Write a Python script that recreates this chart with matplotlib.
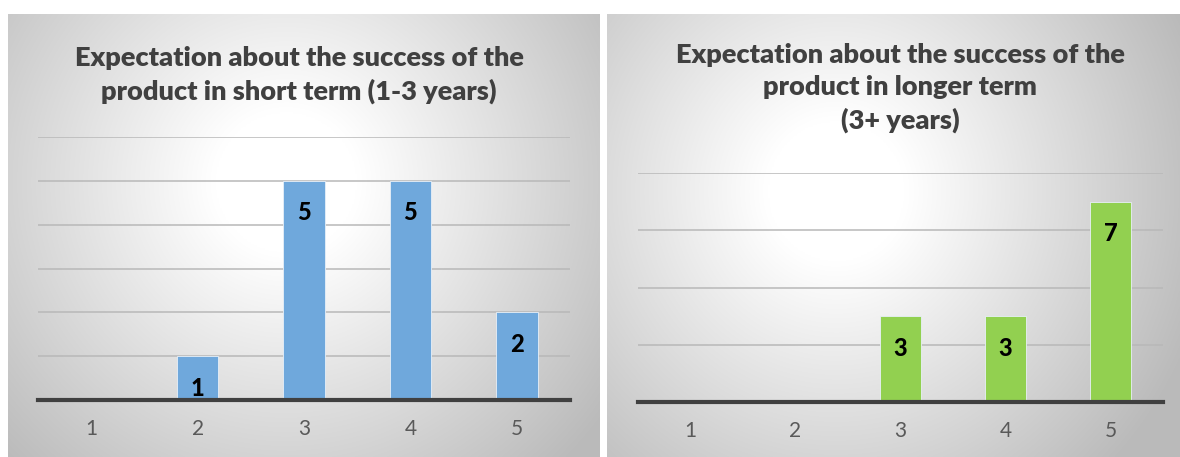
import numpy as np
import matplotlib.pyplot as plt

# data
categories = ['1', '2', '3', '4', '5']
short_term = [0, 1, 5, 5, 2]
long_term = [0, 0, 3, 3, 7]
short_title = 'Expectation about the success of the\nproduct in short term (1-3 years)'
long_title = 'Expectation about the success of the\nproduct in longer term\n(3+ years)'

W, H = 1180, 457
fig = plt.figure(figsize=(W / 100, H / 100), dpi=100)
fig.patch.set_facecolor('white')
FONT = 'Lato'


def px_rect(x0, y0, x1, y1):
    # pixel box (top-left origin) -> figure fraction rect
    return [x0 / W, (H - y1) / H, (x1 - x0) / W, (y1 - y0) / H]


def panel_bg(rect, cx, cy):
    bg = fig.add_axes(rect, zorder=0)
    yy, xx = np.mgrid[0:1:300j, 0:1:400j]
    r = np.sqrt(((xx - cx) * 1.0) ** 2 + ((yy - cy) * 0.75) ** 2)
    v = 1.0 - 0.27 * np.clip((r - 0.12) / 0.55, 0, 1)
    img = np.dstack([v, v, v])
    bg.imshow(img, aspect='auto', extent=[0, 1, 1, 0], interpolation='bilinear')
    bg.axis('off')


def bar_panel(rect, values, color, ymax, step):
    ax = fig.add_axes(rect, zorder=2)
    ax.patch.set_alpha(0)
    x = np.arange(len(categories))
    bars = ax.bar(x, values, width=0.39, color=color, edgecolor='#e8f0f8', linewidth=0.6, zorder=3)
    for b, v in zip(bars, values):
        if v > 0:
            ax.annotate(str(v), (b.get_x() + b.get_width() / 2, v), xytext=(0, -32),
                        textcoords='offset pixels', ha='center', va='center',
                        fontsize=17, fontweight='black', color='black', family=FONT, zorder=4)
    ax.set_xlim(-0.5, len(categories) - 0.5)
    ax.set_ylim(0, ymax)
    ax.set_yticks(np.arange(0, ymax + 1, step))
    ax.yaxis.grid(True, color='#b8b8b8', linewidth=1.1, zorder=1)
    ax.set_axisbelow(True)
    ax.set_xticks(x)
    ax.set_xticklabels(categories, fontsize=15, color='#595959', family=FONT)
    ax.tick_params(axis='x', length=0, pad=14)
    ax.tick_params(axis='y', length=0, labelleft=False)
    for s in ['top', 'right', 'left']:
        ax.spines[s].set_visible(False)
    ax.spines['bottom'].set_color('#404040')
    ax.spines['bottom'].set_linewidth(3)
    ax.spines['bottom'].set_zorder(5)
    return ax


# left panel
panel_bg(px_rect(8, 14, 600, 457), 0.47, 0.38)
bar_panel(px_rect(38, 137, 570, 400), short_term, '#6fa8dc', 6, 1)
fig.text(299 / W, 1 - 75 / H, short_title, ha='center', va='center', fontsize=19.5,
         fontweight='heavy', color='#404040', family=FONT, linespacing=1.38, zorder=6)

# right panel
panel_bg(px_rect(607, 14, 1180, 457), 0.40, 0.40)
bar_panel(px_rect(638, 173, 1163, 402), long_term, '#92d050', 8, 2)
fig.text(900 / W, 1 - 88 / H, long_title, ha='center', va='center', fontsize=19.5,
         fontweight='heavy', color='#404040', family=FONT, linespacing=1.38, zorder=6)

fig.savefig('out.png', dpi=100)
